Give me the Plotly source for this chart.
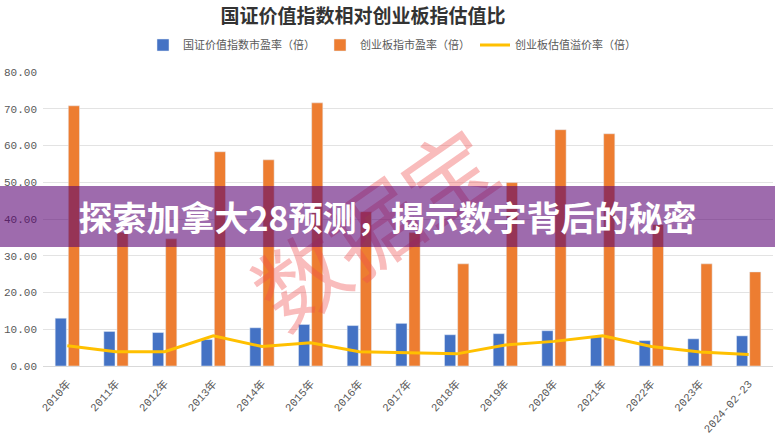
import plotly.graph_objects as go

categories = ["2010年", "2011年", "2012年", "2013年", "2014年", "2015年", "2016年", "2017年",
              "2018年", "2019年", "2020年", "2021年", "2022年", "2023年", "2024-02-23"]
value_pe = [13.0, 9.4, 9.1, 7.2, 10.4, 11.3, 11.0, 11.6, 8.5, 8.8, 9.6, 8.0, 6.9, 7.4, 8.2]
chinext_pe = [70.8, 36.4, 34.6, 58.3, 56.1, 71.6, 42.0, 36.3, 27.8, 49.9, 64.3, 63.2, 38.5, 27.8, 25.6]
premium = [5.5, 3.9, 3.9, 8.2, 5.3, 6.3, 3.9, 3.5, 3.3, 5.7, 6.7, 8.2, 5.3, 3.8, 3.1]
series_names = ["国证价值指数市盈率（倍）", "创业板指市盈率（倍）", "创业板估值溢价率（倍）"]
y_ticks = [0, 10, 20, 30, 40, 50, 60, 70, 80]

title_text = "国证价值指数相对创业板指估值比"
banner_text = "探索加拿大28预测，揭示数字背后的秘密"
watermark_text = "数据宝"

FONT = "Noto Sans CJK SC"
MONO = "Liberation Mono, Noto Sans CJK SC"
GRAY = "#595959"

fig = go.Figure()
fig.add_trace(go.Bar(x=categories, y=value_pe, name=series_names[0], marker_color="#4472C4"))
fig.add_trace(go.Bar(x=categories, y=chinext_pe, name=series_names[1], marker_color="#ED7D31"))
fig.add_trace(go.Scatter(x=categories, y=premium, name=series_names[2], mode="lines",
                         line=dict(color="#FFC000", width=3)))

W, H = 775, 434
L, R, T, B = 43, 2, 72, 68
pw, ph = W - L - R, H - T - B

def px_x(x):
    return (x - L) / pw

def px_y(y):
    return 1 - (y - T) / ph

fig.update_layout(
    width=W, height=H,
    margin=dict(l=L, r=R, t=T, b=B),
    paper_bgcolor="white", plot_bgcolor="white",
    barmode="group", bargap=0.46, bargroupgap=0.15,
    font=dict(family=FONT, color=GRAY, size=10),
    title=dict(text="<b>" + title_text + "</b>", x=363 / W, xanchor="center",
               y=1 - 16 / H, yanchor="middle",
               font=dict(family=FONT, size=19, color="#333333")),
    legend=dict(orientation="h", x=px_x(392), xanchor="center", y=px_y(45), yanchor="middle",
                font=dict(family=FONT, size=11, color=GRAY), itemwidth=30,
                bgcolor="rgba(0,0,0,0)"),
    xaxis=dict(type="category", tickangle=-48, showgrid=False, showline=True, linecolor="#D9D9D9",
               ticks="", ticklabelstandoff=6, automargin=False,
               tickfont=dict(family=MONO, size=11, color=GRAY)),
    yaxis=dict(range=[0, 80], tickvals=y_ticks, tickformat=".2f", showgrid=True,
               gridcolor="#E3E3E3", zeroline=False, showline=False, ticks="",
               ticklabelstandoff=5, automargin=False,
               tickfont=dict(family=MONO, size=11, color=GRAY)),
    showlegend=True,
)

# watermark
fig.add_annotation(text=watermark_text, xref="paper", yref="paper",
                   x=px_x(372), y=px_y(224), xanchor="center", yanchor="middle",
                   showarrow=False, textangle=-35,
                   font=dict(family=FONT, size=90, color="rgba(238,80,80,0.38)"))

# banner
fig.add_annotation(text="<b>" + banner_text + "</b>", xref="paper", yref="paper",
                   x=px_x(W / 2), y=px_y(216.5), xanchor="center", yanchor="middle",
                   showarrow=False, width=W, height=61, borderpad=0, borderwidth=0,
                   bgcolor="rgba(88,0,114,0.58)", align="center", valign="middle",
                   font=dict(family=FONT, size=34, color="white"))

fig.write_html("out.html")
